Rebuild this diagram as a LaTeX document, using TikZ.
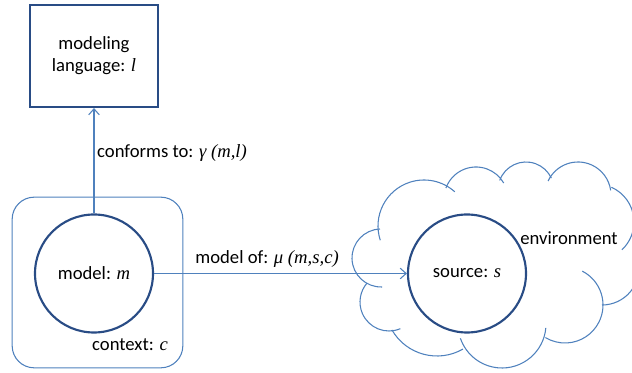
\documentclass[tikz,border=0pt]{standalone}
\usepackage{fontspec}
\setmainfont{Carlito}
\newfontfamily\varfont{Liberation Serif}
\usetikzlibrary{calc,arrows.meta}
\definecolor{darkline}{RGB}{41,76,133}
\definecolor{lightline}{RGB}{79,129,189}
\newcommand{\vname}[1]{{\varfont\itshape #1}}
\def\cloudarc(#1,#2)(#3:#4:#5){\draw[cloudline] ($(#1,#2)+(#3:#5)$) arc (#3:#4:#5);}
\tikzset{
	every node/.style={font=\fontsize{14}{16.5}\selectfont, text=black},
	langbox/.style={draw=darkline, line width=1.6pt, rectangle, minimum width=96pt, minimum height=76.5pt, align=center, inner sep=0pt},
	thing/.style={draw=darkline, line width=1.6pt, circle, minimum size=88.5pt, inner sep=0pt},
	ctxbox/.style={draw=lightline, line width=0.8pt, rounded corners=16.5pt, minimum width=128pt, minimum height=128pt},
	link/.style={draw=lightline, line width=0.8pt, -{Straight Barb[length=4.5pt,width=8pt]}},
	cloudline/.style={draw=lightline, line width=0.8pt},
}

\begin{document}
\begin{tikzpicture}[x=0.75pt, y=-0.75pt]
			%%%%% START %%%%%
			\useasboundingbox (0, 0) rectangle (632, 373);
			
			\cloudarc(381,258)(88:268:29)
			\cloudarc(424,226)(162:312:46)
			\cloudarc(476,199)(200:330:32)
			\cloudarc(526,190)(200:335:28)
			\cloudarc(578,195)(205:352:33)
			\cloudarc(596,222)(294:407:38)
			\cloudarc(602,268)(-20:90:37)
			\cloudarc(565,305)(-63:121:38)
			\cloudarc(502,324)(5:161:44)
			\cloudarc(437,304)(60:150:52)
			\cloudarc(389,302)(67:221:29)
			\node (env) at (569, 238) {environment};
			
			\node[ctxbox] (ctx) at (97.5, 282.5) {};
			\node (ctxlabel) at (130, 345) {context: \vname{c}};
			
			\node[langbox] (lang) at (94, 56) {modeling\\language: \vname{l}};
			\node[thing] (model) at (94, 273.5) {model: \vname{m}};
			\node[thing] (source) at (467, 273.5) {source: \vname{s}};
			
			\draw[link] (model) -- (lang) node[pos=0.575, right, inner sep=2pt] {conforms to: \vname{γ (m,l)}};
			\draw[link] (model) -- (source) node[pos=0.447, above=1pt] {model of: \vname{μ (m,s,c)}};
			%%%%% END %%%%%
\end{tikzpicture}
\end{document}
